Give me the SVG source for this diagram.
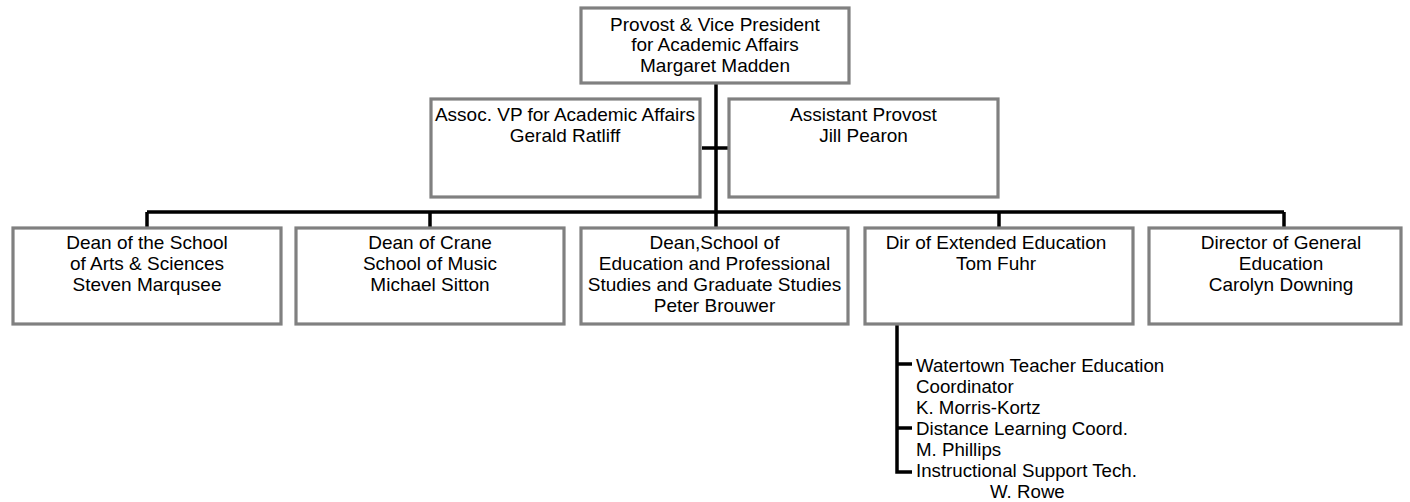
<svg xmlns="http://www.w3.org/2000/svg" width="1410" height="502" viewBox="0 0 1410 502">
<style>
.box{fill:#fff;stroke:#808080;stroke-width:3.2}
.t{font-family:"Liberation Sans",Arial,sans-serif;font-size:19px;fill:#000;text-anchor:middle}
.l{font-family:"Liberation Sans",Arial,sans-serif;font-size:18.7px;fill:#000}
.c{fill:none;stroke:#000;stroke-width:3.5}
</style>
<rect width="1410" height="502" fill="#fff"/>
<g id="connectors">
<path class="c" d="M716 83V228M702 148H729M147 212H1284M147 212V228M430 212V228M999 212V228M1284 212V228"/>
<path class="c" d="M897 324V472H912M897 364H912M897 428H912"/>
</g>
<g id="provost">
<rect class="box" x="581" y="8" width="268" height="75"/>
<text class="t" x="715" y="30.5">Provost &amp; Vice President</text>
<text class="t" x="715" y="51">for Academic Affairs</text>
<text class="t" x="715" y="71.5">Margaret Madden</text>
</g>
<g id="assoc-vp">
<rect class="box" x="431" y="99" width="269" height="98"/>
<text class="t" x="565" y="121">Assoc. VP for Academic Affairs</text>
<text class="t" x="565" y="142">Gerald Ratliff</text>
</g>
<g id="asst-provost">
<rect class="box" x="729" y="99" width="269" height="98"/>
<text class="t" x="863.5" y="121">Assistant Provost</text>
<text class="t" x="863.5" y="142">Jill Pearon</text>
</g>
<g id="dean-arts">
<rect class="box" x="13" y="228" width="268" height="96"/>
<text class="t" x="147" y="249">Dean of the School</text>
<text class="t" x="147" y="270">of Arts &amp; Sciences</text>
<text class="t" x="147" y="291">Steven Marqusee</text>
</g>
<g id="dean-crane">
<rect class="box" x="296" y="228" width="268" height="96"/>
<text class="t" x="430" y="249">Dean of Crane</text>
<text class="t" x="430" y="270">School of Music</text>
<text class="t" x="430" y="291">Michael Sitton</text>
</g>
<g id="dean-education">
<rect class="box" x="581" y="228" width="267" height="96"/>
<text class="t" x="714.5" y="249">Dean,School of</text>
<text class="t" x="714.5" y="270">Education and Professional</text>
<text class="t" x="714.5" y="291">Studies and Graduate Studies</text>
<text class="t" x="714.5" y="312">Peter Brouwer</text>
</g>
<g id="dir-extended">
<rect class="box" x="865" y="228" width="268" height="96"/>
<text class="t" x="996" y="249">Dir of Extended Education</text>
<text class="t" x="996" y="270">Tom Fuhr</text>
</g>
<g id="dir-general">
<rect class="box" x="1149" y="228" width="252" height="96"/>
<text class="t" x="1281" y="249">Director of General</text>
<text class="t" x="1281" y="270">Education</text>
<text class="t" x="1281" y="291">Carolyn Downing</text>
</g>
<g id="extended-staff">
<text class="l" x="916" y="371.5">Watertown Teacher Education</text>
<text class="l" x="916" y="392.5">Coordinator</text>
<text class="l" x="916" y="413.5">K. Morris-Kortz</text>
<text class="l" x="916" y="434.5">Distance Learning Coord.</text>
<text class="l" x="916" y="455.5">M. Phillips</text>
<text class="l" x="916" y="476.5">Instructional Support Tech.</text>
<text class="l" x="990" y="497.5">W. Rowe</text>
</g>
</svg>
